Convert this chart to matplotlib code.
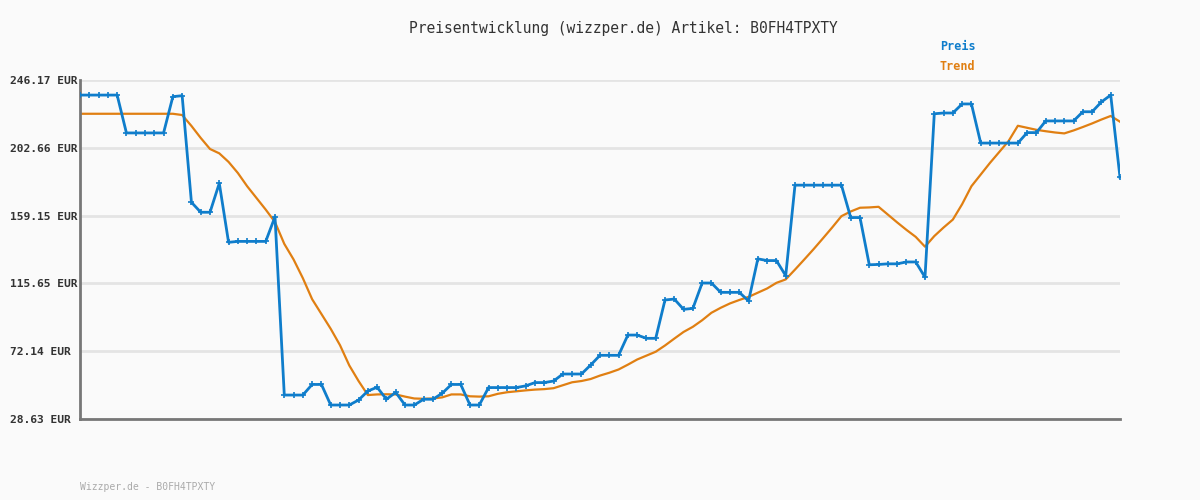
import numpy as np
import matplotlib.pyplot as plt

##DATA##########################################################################
title = 'Preisentwicklung (wizzper.de) Artikel: B0FH4TPXTY'
footer = 'Wizzper.de - B0FH4TPXTY'
ytick_values = [28.63, 72.14, 115.65, 159.15, 202.66, 246.17]
ytick_labels = ['28.63 EUR', '72.14 EUR', '115.65 EUR', '159.15 EUR', '202.66 EUR', '246.17 EUR']

preis = [
    236.5, 236.5, 236.5, 236.5, 236.5, 212.2, 212.2, 212.2, 212.2, 212.2,
    235.5, 236.1, 167.7, 161.3, 161.3, 179.9, 142.0, 142.6, 142.6, 142.6,
    142.6, 158.4, 44.0, 44.0, 44.0, 50.8, 50.8, 37.6, 37.6, 37.6,
    40.8, 46.6, 49.0, 41.3, 45.7, 37.6, 37.6, 41.3, 41.3, 45.1,
    50.8, 50.8, 37.6, 37.6, 48.8, 48.8, 48.8, 48.8, 49.9, 52.0,
    52.0, 53.0, 57.5, 57.5, 57.5, 63.3, 69.5, 69.5, 69.5, 82.5,
    82.5, 80.4, 80.4, 105.0, 105.6, 99.0, 99.6, 115.9, 115.9, 109.9,
    109.9, 109.9, 104.4, 131.4, 130.3, 130.3, 120.6, 178.7, 178.7, 178.7,
    178.7, 178.7, 178.7, 157.9, 157.9, 127.6, 127.8, 128.2, 128.2, 129.4,
    129.4, 119.6, 224.5, 225.0, 225.0, 230.8, 230.8, 205.7, 205.7, 205.7,
    205.7, 205.7, 212.4, 212.4, 219.9, 219.9, 219.9, 219.9, 225.8, 225.8,
    232.1, 236.5, 183.7,
]

trend = [
    224.5, 224.5, 224.5, 224.5, 224.5, 224.5, 224.5, 224.5, 224.5, 224.5,
    224.5, 223.7, 216.7, 209.0, 201.9, 199.1, 193.6, 186.5, 178.0, 170.5,
    163.0, 155.0, 141.0, 131.0, 119.0, 105.5, 96.0, 86.5, 76.0, 63.0,
    53.0, 44.0, 44.4, 44.5, 44.4, 43.0, 41.8, 41.6, 41.8, 42.5,
    44.4, 44.4, 43.2, 43.0, 43.2, 44.8, 45.8, 46.4, 47.0, 47.5,
    47.8, 48.4, 50.3, 52.2, 53.0, 54.3, 56.5, 58.3, 60.4, 63.5,
    66.8, 69.3, 71.8, 75.8, 80.2, 84.5, 87.8, 92.0, 96.8, 100.0,
    102.8, 105.0, 107.0, 109.7, 112.4, 116.0, 118.2, 124.5, 131.0, 137.6,
    144.5, 151.5, 158.8, 161.8, 164.2, 164.4, 164.8, 159.8, 154.8, 150.0,
    145.5, 139.2, 146.0, 151.5, 156.6, 166.5, 178.0, 185.5, 193.0, 200.0,
    207.0, 216.8, 215.5, 214.2, 213.3, 212.5, 211.9, 213.8, 216.0, 218.3,
    220.8, 223.1, 219.4,
]
################################################################################

blue = '#0f7dcb'
orange = '#e07f12'
mono = 'DejaVu Sans Mono'

x = np.arange(len(preis))

fig = plt.figure(figsize=(12, 5), dpi=100, facecolor='#fafafa')
ax = fig.add_axes([80 / 1200, 1 - 419 / 500, 1040 / 1200, 339 / 500])
ax.set_facecolor('#fafafa')

for v in ytick_values:
    ax.axhline(v, color='#e4e4e4', linewidth=2, zorder=0)

ax.plot(x, trend, color=orange, linewidth=1.6, zorder=2)
ax.plot(x, preis, color=blue, linewidth=2, marker='+', markersize=5,
        markeredgewidth=1.2, zorder=3)

ax.set_xlim(0, len(preis) - 1)
ax.set_ylim(ytick_values[0], ytick_values[-1])
ax.set_xticks([])
ax.set_yticks(ytick_values)
ax.set_yticklabels(ytick_labels, fontfamily=mono, fontsize=8.1,
                   fontweight='bold', color='#333333')
for lab in ax.get_yticklabels():
    lab.set_ha('left')
ax.tick_params(axis='y', length=0, pad=50.5)

for side in ['top', 'right']:
    ax.spines[side].set_visible(False)
for side in ['left', 'bottom']:
    ax.spines[side].set_color('#777777')
    ax.spines[side].set_linewidth(2)

fig.text(623 / 1200, 1 - 28 / 500, title, ha='center', va='center',
         fontfamily=mono, fontsize=10.5, color='#333333')
fig.text(940 / 1200, 1 - 47 / 500, 'Preis', ha='left', va='center',
         fontfamily=mono, fontsize=8.5, fontweight='bold', color=blue)
fig.text(940 / 1200, 1 - 67 / 500, 'Trend', ha='left', va='center',
         fontfamily=mono, fontsize=8.5, fontweight='bold', color=orange)
fig.text(80 / 1200, 1 - 487 / 500, footer, ha='left', va='center',
         fontfamily=mono, fontsize=7, color='#aaaaaa')

fig.savefig('out.png', dpi=100, facecolor=fig.get_facecolor())
